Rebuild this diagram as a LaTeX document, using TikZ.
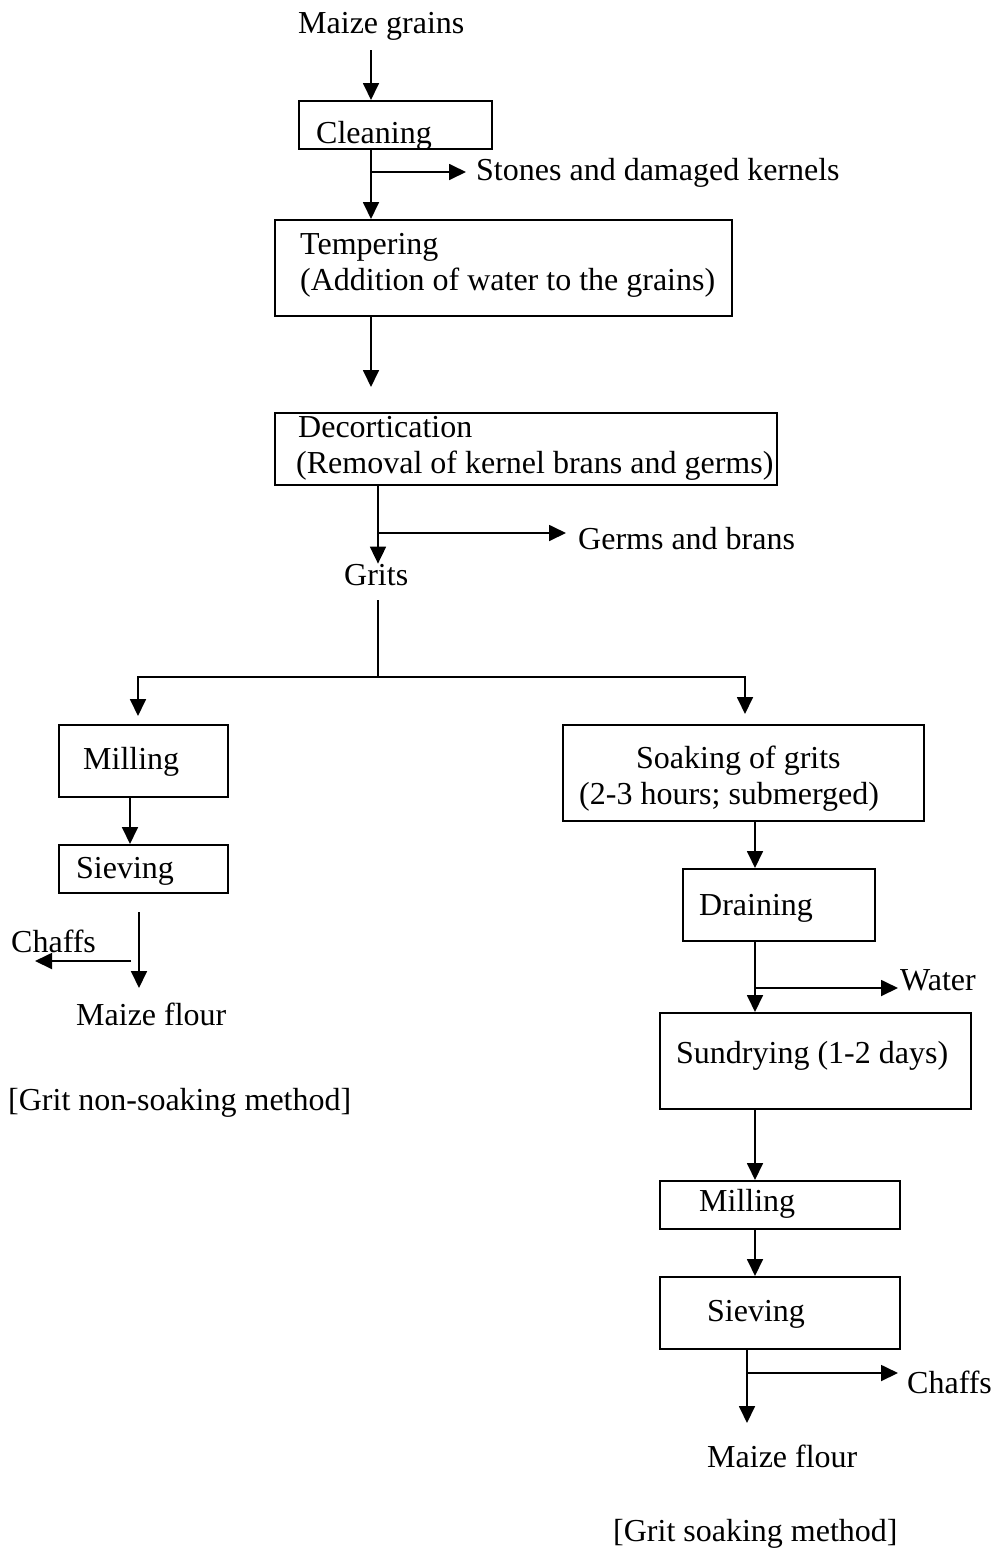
\documentclass[tikz,border=0pt]{standalone}
\usepackage{fontspec}
\setmainfont{Liberation Serif}
\usetikzlibrary{arrows.meta}
\begin{document}
\begin{tikzpicture}[x=1pt,y=-1pt,
  box/.style={draw,line width=1.8pt,inner sep=0pt,anchor=north west},
  txt/.style={inner sep=0pt,anchor=base west,font=\fontsize{32}{38}\selectfont},
  arr/.style={line width=1.8pt,-{Triangle[length=17pt,width=16pt]}},
  ln/.style={line width=1.8pt}]
\useasboundingbox[fill=white] (0,0) rectangle (995,1548);

% ---- boxes ----
\node[box,minimum width=193pt,minimum height=48pt] (clean) at (298,100) {};
\node[box,minimum width=457pt,minimum height=96pt] (temp) at (274,219) {};
\node[box,minimum width=502pt,minimum height=72pt] (dec) at (274,412) {};
\node[box,minimum width=169pt,minimum height=72pt] (millL) at (58,724) {};
\node[box,minimum width=169pt,minimum height=48pt] (sievL) at (58,844) {};
\node[box,minimum width=361pt,minimum height=96pt] (soak) at (562,724) {};
\node[box,minimum width=192pt,minimum height=72pt] (drain) at (682,868) {};
\node[box,minimum width=311pt,minimum height=96pt] (sun) at (659,1012) {};
\node[box,minimum width=240pt,minimum height=48pt] (millR) at (659,1180) {};
\node[box,minimum width=240pt,minimum height=72pt] (sievR) at (659,1276) {};

% ---- texts ----
\node[txt] (mg) at (298,33) {Maize grains};
\node[txt] (cleanT) at (316,143) {Cleaning};
\node[txt] (stones) at (476,180) {Stones and damaged kernels};
\node[txt] (tempT1) at (300,254) {Tempering};
\node[txt] (tempT2) at (300,290) {(Addition of water to the grains)};
\node[txt] (decT1) at (298,437) {Decortication};
\node[txt] (decT2) at (296,473) {(Removal of kernel brans and germs)};
\node[txt] (germs) at (578,549) {Germs and brans};
\node[txt] (grits) at (344,585) {Grits};
\node[txt] (millLT) at (83,769) {Milling};
\node[txt] (sievLT) at (76,878) {Sieving};
\node[txt] (chaffL) at (11,952) {Chaffs};
\node[txt] (flourL) at (76,1025) {Maize flour};
\node[txt] (methL) at (8,1110) {[Grit non-soaking method]};
\node[txt] (soakT1) at (636,768) {Soaking of grits};
\node[txt] (soakT2) at (579,804) {(2-3 hours; submerged)};
\node[txt] (drainT) at (699,915) {Draining};
\node[txt] (water) at (900,990) {Water};
\node[txt] (sunT) at (676,1063) {Sundrying (1-2 days)};
\node[txt] (millRT) at (699,1211) {Milling};
\node[txt] (sievRT) at (707,1321) {Sieving};
\node[txt] (chaffR) at (907,1393) {Chaffs};
\node[txt] (flourR) at (707,1467) {Maize flour};
\node[txt] (methR) at (613,1541) {[Grit soaking method]};

% ---- coordinates ----
\coordinate (p1) at (371,50);
\coordinate (b1) at (371,172);
\coordinate (b1e) at (466,172);
\coordinate (p2) at (371,387);
\coordinate (p3) at (378,0);
\coordinate (b2) at (378,533);
\coordinate (b2e) at (566,533);
\coordinate (g1) at (378,600);
\coordinate (g2) at (378,677);
\coordinate (L) at (138,716);
\coordinate (R) at (745,714);
\coordinate (q1) at (130,0);
\coordinate (q2) at (139,912);
\coordinate (q3) at (139,988);
\coordinate (q4) at (131,961);
\coordinate (q5) at (35,961);
\coordinate (r1) at (755,0);
\coordinate (b3) at (755,988);
\coordinate (b3e) at (898,988);
\coordinate (r2) at (747,0);
\coordinate (r3) at (747,1423);
\coordinate (b4) at (747,1373);
\coordinate (b4e) at (898,1373);

% ---- connectors ----
\draw[arr] (p1) -- (p1 |- clean.north);
\draw[arr] (p1 |- clean.south) -- (p1 |- temp.north);
\draw[arr] (b1) -- (b1e);
\draw[arr] (p1 |- temp.south) -- (p2);
\draw[arr] (p3 |- dec.south) -- (p3 |- grits.north);
\draw[arr] (b2) -- (b2e);
\draw[ln] (g1) -- (g2);
\draw[arr] (g2) -| (L);
\draw[arr] (g2) -| (R);
\draw[arr] (q1 |- millL.south) -- (q1 |- sievL.north);
\draw[arr] (q2) -- (q3);
\draw[arr] (q4) -- (q5);
\draw[arr] (r1 |- soak.south) -- (r1 |- drain.north);
\draw[arr] (r1 |- drain.south) -- (r1 |- sun.north);
\draw[arr] (b3) -- (b3e);
\draw[arr] (r1 |- sun.south) -- (r1 |- millR.north);
\draw[arr] (r1 |- millR.south) -- (r1 |- sievR.north);
\draw[arr] (r2 |- sievR.south) -- (r3);
\draw[arr] (b4) -- (b4e);
\end{tikzpicture}
\end{document}
